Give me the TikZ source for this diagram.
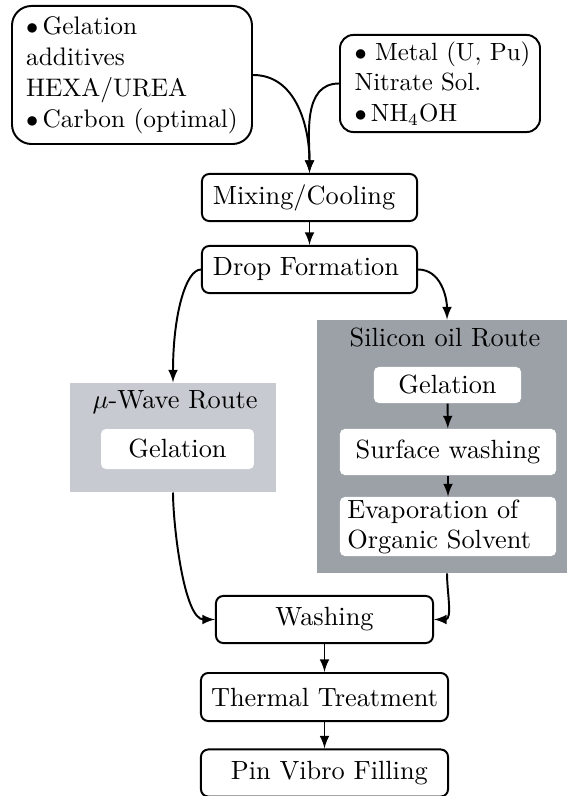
\documentclass[tikz,border=0pt]{standalone}
\usetikzlibrary{arrows}

\definecolor{oilgray}{RGB}{155,161,167}
\definecolor{wavegray}{RGB}{199,202,208}

\begin{document}
\begin{tikzpicture}[%
				x=0.41pt, y=-0.41pt,
				>=latex,
				stage/.style={%
					draw,
					thick,
					rounded corners=3pt,
					inner sep=0pt,
					align=center,
					font=\fontsize{10.8}{13}\selectfont
				},
				route/.style={%
					fill=#1,
					inner sep=0pt
				},
				inbox/.style={%
					fill=white,
					rounded corners=2pt,
					inner sep=0pt,
					align=center,
					font=\fontsize{10.8}{13}\selectfont
				},
				flow/.style={->, thick}
			]

				\useasboundingbox (0, 0) rectangle (566, 796);

				% feed solutions
				\node (additives) [stage, rounded corners=8pt, align=left,
					minimum width=98.4pt, minimum height=56.6pt,
					font=\fontsize{10.4}{12.7}\selectfont] at (132, 75) {%
					$\bullet$\,Gelation \\
					additives \\
					HEXA/UREA \\
					$\bullet$\,Carbon (optimal)
				};
				\node (nitrate) [stage, rounded corners=5.5pt, align=left, text width=70pt,
					minimum width=82pt, minimum height=39.8pt,
					font=\fontsize{10.2}{12.5}\selectfont] at (440, 83.5) {%
					\mbox{$\bullet$ Metal (U, Pu)} \\
					\mbox{Nitrate Sol.} \\
					\mbox{$\bullet\,$NH$_4$OH}
				};

				\node (mixing) [stage, align=left, text width=79.2pt,
					minimum width=88.2pt, minimum height=19.3pt] at (309.5, 197.5) {\mbox{Mixing/Cooling}};
				\node (drop) [stage, align=left, text width=79.2pt,
					minimum width=88.2pt, minimum height=19.3pt] at (309.5, 269.5) {\mbox{Drop Formation}};

				% micro wave route
				\node (mwave) [route=wavegray, minimum width=84.5pt, minimum height=44.7pt] at (173, 437.5) {};
				\node (mwtitle) [anchor=base, font=\fontsize{10.8}{13}\selectfont] at (175, 409) {$\mu$-Wave Route};
				\node (mwgel) [inbox, minimum width=62.7pt, minimum height=16.4pt] at (177.5, 449) {Gelation};

				% silicon oil route
				\node (silicon) [route=oilgray, minimum width=106.6pt, minimum height=103.7pt] at (447, 446.5) {};
				\node (sititle) [anchor=base, font=\fontsize{10.8}{13}\selectfont] at (445, 347) {Silicon oil Route};
				\node (sigel) [inbox, minimum width=60.3pt, minimum height=14.8pt] at (447.5, 385) {Gelation};
				\node (surface) [inbox, minimum width=88.6pt, minimum height=18.9pt] at (448, 452) {Surface washing};
				\node (evap) [inbox, align=left, text width=82.6pt,
					minimum width=88.6pt, minimum height=24.2pt,
					font=\fontsize{10.8}{12.3}\selectfont] at (448, 526.5) {%
					\mbox{Evaporation of} \\
					\mbox{Organic Solvent}
				};

				\node (washing) [stage, minimum width=89pt, minimum height=19.3pt] at (324.5, 619.5) {Washing};
				\node (thermal) [stage, minimum width=101.3pt, minimum height=19.7pt] at (324.5, 697) {Thermal Treatment};
				\node (filling) [stage, minimum width=101.3pt, minimum height=19.3pt] at (324.5, 773) {\hspace{4pt}Pin Vibro Filling};

				\draw [flow] (additives) to[out=0, in=90] (mixing);
				\draw [flow] (nitrate) to[out=180, in=90] (mixing);
				\draw [flow] (mixing) -- (drop);
				\draw [flow] (drop) to[out=180, in=90, out looseness=0.33, in looseness=1.5] (mwave);
				\draw [flow] (drop) to[out=0, in=90] (silicon);
				\draw [flow] (sigel) -- (surface);
				\draw [flow] (surface) -- (evap);
				\draw [flow] (mwave) to[out=-90, in=180, looseness=0.6] (washing);
				\draw [flow] (silicon) to[out=-90, in=0] (washing);
				\draw [flow] (washing) -- (thermal);
				\draw [flow] (thermal) -- (filling);
			\end{tikzpicture}
\end{document}
